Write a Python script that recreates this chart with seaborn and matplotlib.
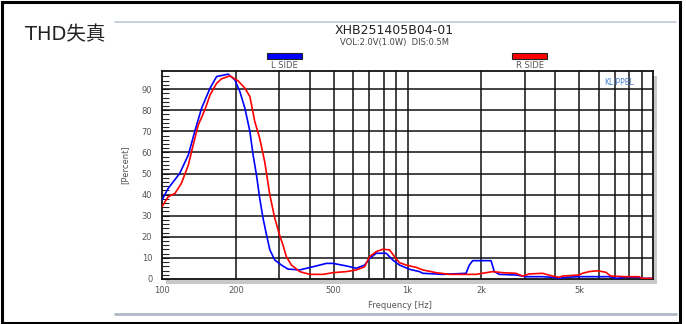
import numpy as np
import pandas as pd
import matplotlib
matplotlib.use("Agg")
import matplotlib.pyplot as plt
from matplotlib.patches import Rectangle
from matplotlib.lines import Line2D
import seaborn as sns

# ---------------- data ----------------
l_freq = [100, 106, 118, 128, 136, 145, 157, 167, 186, 198, 207.5, 217.5, 228, 235,
          242.6, 250, 258, 266.5, 275, 288, 306.6, 326, 364, 412, 467, 497, 563, 619,
          669, 701, 746, 819, 871, 928, 1019, 1119, 1154, 1392, 1732, 1786, 1843, 2189,
          2258, 2366, 2767, 3038, 3548, 3896, 4149, 4417, 5003, 6624, 7051, 7745, 8774,
          9023, 9906]
l_thd = [37.5, 43, 50, 58.8, 70, 81, 90.5, 96, 97.1, 94.4, 88.9, 81, 70, 58.8,
         49.3, 38.3, 28.8, 20.9, 13.8, 9.0, 6.6, 4.7, 4.3, 5.8, 7.4, 7.4, 6.2, 5.1,
         6.6, 9.8, 12.2, 12.2, 9.0, 6.6, 4.6, 3.5, 2.7, 2.2, 2.7, 6.6, 8.7, 8.7,
         3.5, 2.2, 1.9, 1.1, 1.1, 0.8, 0.3, 0.8, 1.1, 1.1, 0.3, 0.8, 0.8,
         0.3, 0.3]

r_freq = [100, 106, 113, 120, 128, 134, 140.5, 149.5, 157, 167, 174.8, 189, 204.2,
          217.5, 228, 238.8, 250, 262, 275, 288, 301.8, 311, 321, 336.7, 364, 400,
          453, 497, 563, 619, 669, 701, 746, 794, 845, 886, 928, 988, 1085, 1154,
          1308, 1482, 1732, 1902, 2222, 2440, 2767, 2943, 3133, 3548, 3896, 4149,
          4279, 5003, 5160, 5493, 5937, 6424, 6730, 7745, 8774, 9023, 9906]
r_thd = [34.3, 39, 40.6, 45.4, 54, 63.6, 73, 80.2, 87.3, 92.8, 94.9, 96.3, 93.9,
         90.5, 86.5, 74.6, 66.7, 55.6, 39.8, 28.8, 20.5, 16.1, 10.6, 6.6, 3.5, 2.2,
         2.2, 3.0, 3.5, 4.3, 5.8, 10.6, 13.0, 14.1, 13.8, 10.6, 7.7, 6.6, 5.5, 4.3,
         3.0, 2.2, 2.2, 2.2, 3.5, 3.0, 2.7, 1.4, 2.4, 2.7, 1.4, 0.8,
         1.4, 1.9, 2.7, 3.5, 3.9, 3.2, 1.4, 1.1, 1.1, 0.3, 0.3]

series_names = ["L SIDE", "R SIDE"]
series_colors = ["#0000ff", "#ff0000"]

x_ticks = [100, 200, 500, 1000, 2000, 5000]
x_ticklabels = ["100", "200", "500", "1k", "2k", "5k"]
y_ticks = [0, 10, 20, 30, 40, 50, 60, 70, 80, 90]

title_text = "XHB251405B04-01"
subtitle_text = "VOL:2.0V(1.0W)  DIS:0.5M"
corner_text = "THD失真"

df = pd.concat([
    pd.DataFrame({"freq": l_freq, "thd": l_thd, "side": series_names[0]}),
    pd.DataFrame({"freq": r_freq, "thd": r_thd, "side": series_names[1]}),
], ignore_index=True)

# ---------------- style ----------------
sns.set_style("white")
plt.rcParams["font.family"] = ["DejaVu Sans", "Noto Sans CJK SC"]

W, H = 686, 324
fig = plt.figure(figsize=(W / 100, H / 100), dpi=100)

def fx(px):
    return px / W

def fy(py):
    return 1 - py / H

ax_l, ax_r, ax_t, ax_b = 162, 653, 71, 279
ax = fig.add_axes([fx(ax_l), fy(ax_b), (ax_r - ax_l) / W, (ax_b - ax_t) / H])

# drop shadow of plot panel
fig.patches.append(Rectangle((fx(ax_l + 4), fy(ax_b + 5)), (ax_r - ax_l) / W, (ax_b - ax_t) / H,
                             transform=fig.transFigure, facecolor="#c8c8c8", edgecolor="none",
                             zorder=0))

sns.lineplot(data=df, x="freq", y="thd", hue="side", palette=dict(zip(series_names, series_colors)),
             ax=ax, linewidth=1.2, legend=False, sort=False, zorder=5)

ax.set_xscale("log")
ax.set_xlim(100, 10000)
ax.set_ylim(0, 98.6)
ax.set_facecolor("white")
ax.set_zorder(2)

# grid
for m in [200, 300, 400, 500, 600, 700, 800, 900, 1000, 2000, 3000, 4000, 5000,
          6000, 7000, 8000, 9000]:
    ax.axvline(m, color="#111111", lw=1.1, zorder=1)
for v in y_ticks[1:]:
    ax.axhline(v, color="#111111", lw=1.1, zorder=1)

ax.set_xticks(x_ticks)
ax.set_xticklabels(x_ticklabels)
ax.xaxis.set_minor_locator(matplotlib.ticker.NullLocator())
ax.set_yticks(y_ticks)
ax.set_yticks(np.arange(0, 98, 2), minor=True)
ax.tick_params(axis="x", length=0, pad=5, labelsize=6, labelcolor="#555555")
ax.tick_params(axis="y", which="major", direction="in", length=5, width=0.8,
               pad=7, labelsize=6, labelcolor="#555555", left=True)
ax.tick_params(axis="y", which="minor", direction="in", length=5, width=0.8, left=True)
for s in ax.spines.values():
    s.set_color("#111111")
    s.set_linewidth(1.3)
ax.set_xlabel("")
ax.set_ylabel("")

fig.text(fx(400), fy(306), "Frequency [Hz]", ha="center", va="center", fontsize=6,
         color="#555555")
fig.text(fx(125), fy(165), "[Percent]", ha="center", va="center", fontsize=6,
         color="#555555", rotation=90)

ax.text(0.962, 0.965, "KLIPPEL", transform=ax.transAxes, ha="right", va="top",
        fontsize=5.5, color="#4a7fd0", zorder=6)

# titles
fig.text(fx(394), fy(30), title_text, ha="center", va="center", fontsize=9,
         color="#222222")
fig.text(fx(395), fy(42), subtitle_text, ha="center", va="center", fontsize=6,
         color="#444444")
fig.text(fx(25), fy(35), corner_text, ha="left", va="center", fontsize=14,
         color="#222222", family=["DejaVu Sans", "Noto Sans CJK SC"])

# legend swatches
for (x0, x1), name, col in zip([(267, 302), (512, 547)], series_names, series_colors):
    fig.patches.append(Rectangle((fx(x0), fy(58.5)), (x1 - x0) / W, 5.5 / H,
                                 transform=fig.transFigure, facecolor=col,
                                 edgecolor="#222222", lw=0.8))
    fig.text(fx((x0 + x1) / 2), fy(66), name, ha="center", va="center", fontsize=6,
             color="#555555")

# decorative lines
fig.lines.append(Line2D([fx(115), fx(676)], [fy(22), fy(22)], transform=fig.transFigure,
                        color="#c0c8d8", lw=1.2))
fig.lines.append(Line2D([fx(115), fx(676)], [fy(314), fy(314)], transform=fig.transFigure,
                        color="#b0b8c8", lw=2.0))

# outer black border
fig.patches.append(Rectangle((fx(1.5), fy(322.5)), (680 - 1.5) / W, (322.5 - 1.5) / H,
                             transform=fig.transFigure, facecolor="none",
                             edgecolor="black", lw=2.2, zorder=10))

fig.savefig("out.png", dpi=100)
